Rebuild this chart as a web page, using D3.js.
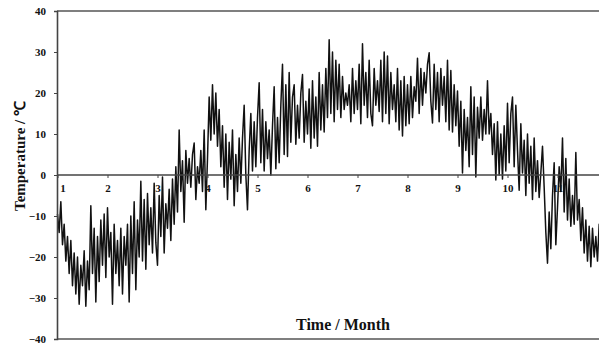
<!DOCTYPE html>
<html>
<head>
<meta charset="utf-8">
<script src="https://cdn.jsdelivr.net/npm/d3@7"></script>
<style>
  html, body { margin: 0; padding: 0; background: #fff; overflow: hidden; }
  text { font-family: "Liberation Serif", "Times New Roman", serif; font-weight: bold; fill: #111; }
</style>
</head>
<body>
<div class="canva"></div>
<script>
// Temperatura diaria (una muestra por dia, 30 por mes)
const temps = [
  -9.5, -14, -6.5, -17, -12, -21, -15, -24, -16, -27,
  -19, -29, -20, -31.5, -22, -27, -18.5, -32, -21, -28,
  -7.5, -24, -13, -31, -15, -26, -11, -22, -9.5, -25,
  -8, -20, -14, -31.5, -12, -24, -16, -27, -13, -29,
  -15, -22, -12, -31, -10, -24, -6.5, -28, -11, -20,
  -1.5, -21, -6, -23, -4.5, -17, -8, -19, -2, -16.5,
  -22, -5, -15, -0.5, -19, -7, -13, -3.5, -16, -1,
  -12, 2, -9, 11, -4, 3.5, -11.5, 6, -2, 4,
  -3, 5, 7.8, -6, 2, -2, 6, -4, 11, -8.5,
  4, 19, 8.5, 22, 10, 20, 7, 16, 2, 12,
  -3, 10, -6, 8, -1, 11, -7.5, 5, -4, 9,
  -2, 9, 17, 0, -8.5, 6, 15, 1, 13, 2,
  14, 22.5, 3, 16, 1, 13, 4, 11, 0, 12,
  21.5, 1.5, 14, 3, 17, 27, 5, 22, 4.5, 25,
  8, 19, 22, 7.5, 17, 9, 20, 24.5, 8, 18,
  10, 21, 6.5, 23, 9, 19, 7, 25, 11, 22,
  10.5, 26, 14, 33, 15, 30, 13, 28, 16, 27,
  14, 24, 16, 20, 17, 22, 13, 26, 15, 23,
  16, 27, 12.5, 32, 17, 25, 14, 28, 15, 12,
  26, 17, 23, 15.5, 28, 13, 30, 15, 29, 12.5,
  25, 16, 22, 13, 26, 11, 23, 9.5, 24, 12,
  22, 12.5, 24, 14, 21.5, 18, 28.5, 15, 26, 17,
  25, 20, 27, 29.8, 18, 12.7, 27, 16, 25, 13,
  26, 17, 24, 13, 28, 11, 25.5, 10.5, 22, 12,
  20.5, 7, 18, 0.5, 16, 6, 14, 2, 21.5, 5,
  19, -0.5, 16.5, 9, 19, 8.5, 16, 10, 23, 10,
  15, 5, 12.5, -1.2, 13, 0, 10, -1, 12, 1,
  17.5, 3, 15, 19, 2, 17, 6, -3.7, 12.5, 0.5,
  8.5, -5, 10, -2, 7, -6, 9, -4, 3.5, -5.5,
  0.5, 7, -3, -14, -21.5, -9, -18, -5, 3, -17,
  -8, 2, -4, 9, -9, 4, -11, -1, -12.5, -5,
  -12, 5.5, -11, -6, -16, -8, -19, -11, -21, -12.5,
  -22.4, -13, -20, -15, -21, -12, -18
];
const months = [1, 2, 3, 4, 5, 6, 7, 8, 9, 10, 11, 12];
const yTicks = [-40, -30, -20, -10, 0, 10, 20, 30, 40];
const samplesPerMonth = 30;

const width = 599, height = 347;

const svg = d3.select(".canva")
  .append("svg")
  .attr("width", width)
  .attr("height", height);

const x = d3.scaleLinear().domain([1, 12]).range([57.5, 607.5]);
const y = d3.scaleLinear().domain([-40, 40]).range([339, 11]);

// serie
const line = d3.line()
  .x((d, i) => x(1 + i / samplesPerMonth))
  .y(d => y(d));

svg.append("path")
  .datum(temps)
  .attr("fill", "none")
  .attr("stroke", "#111")
  .attr("stroke-width", 1.5)
  .attr("stroke-linejoin", "round")
  .attr("d", line);

// marco superior e inferior
svg.append("line")
  .attr("x1", 57).attr("x2", width)
  .attr("y1", y(40)).attr("y2", y(40))
  .attr("stroke", "#555").attr("stroke-width", 1.6);
svg.append("line")
  .attr("x1", 57).attr("x2", width)
  .attr("y1", y(-40)).attr("y2", y(-40))
  .attr("stroke", "#555").attr("stroke-width", 1.6);

// eje Y
const yAxis = svg.append("g")
  .attr("transform", "translate(57,0)")
  .call(d3.axisLeft(y).tickValues(yTicks).tickSize(3).tickPadding(8));
yAxis.select(".domain").attr("stroke", "#444").attr("stroke-width", 1.6);
yAxis.selectAll(".tick line").attr("stroke", "#444");
yAxis.selectAll(".tick text").style("font-size", "11px");

// eje X sobre la linea del cero
const xAxis = svg.append("g")
  .attr("transform", `translate(0,${y(0)})`)
  .call(d3.axisBottom(x).tickValues(months).tickSize(3).tickSizeOuter(0).tickPadding(6));
xAxis.select(".domain").attr("d", `M57,0H${width}`).attr("stroke", "#444").attr("stroke-width", 1.6);
xAxis.selectAll(".tick line").attr("stroke", "#444");
xAxis.selectAll(".tick text").style("font-size", "11px");
xAxis.selectAll(".tick text").filter(d => d === 1).attr("dx", 5);

// titulos
svg.append("text")
  .attr("x", 343)
  .attr("y", 330)
  .attr("text-anchor", "middle")
  .style("font-size", "16px")
  .text("Time / Month");

svg.append("text")
  .attr("transform", "translate(25,156) rotate(-90)")
  .attr("text-anchor", "middle")
  .style("font-size", "15px")
  .text("Temperature / ℃");
</script>
</body>
</html>
